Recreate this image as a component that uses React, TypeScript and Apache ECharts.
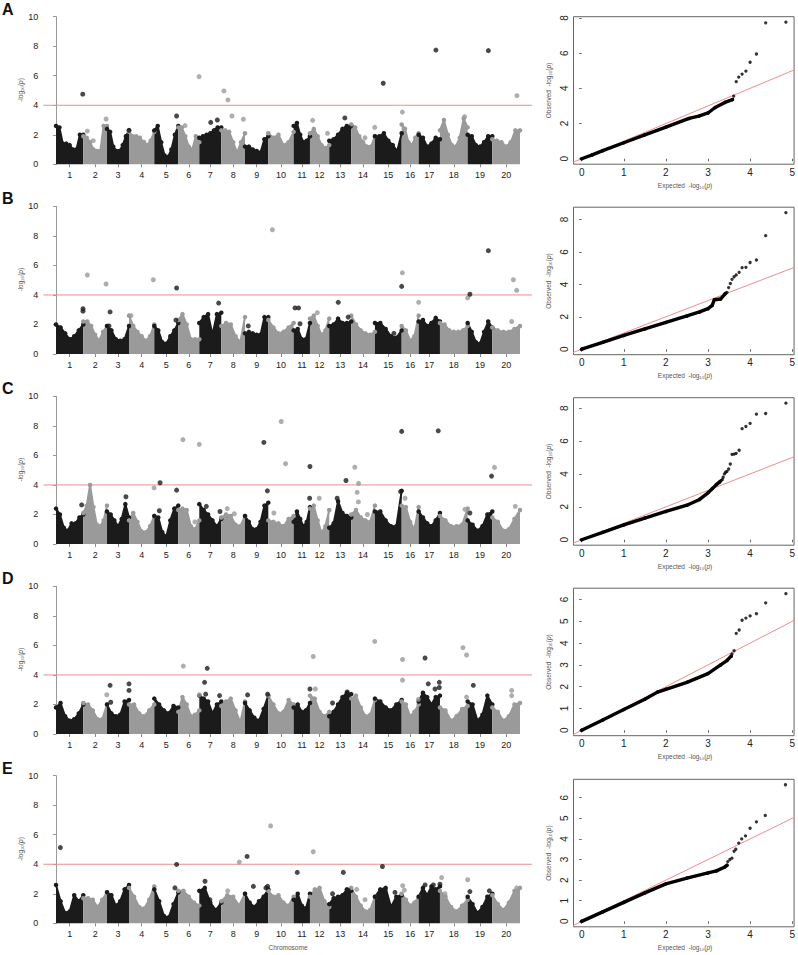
import React, { useEffect, useRef } from "react";
import * as echarts from "echarts";

// ---------------- DATA ----------------
const chromNames = ["1","2","3","4","5","6","7","8","9","10","11","12","13","14","15","16","17","18","19","20"];
// chromosome lengths (Mb)
const chromLenMb = [57.3, 49.8, 46.2, 53.1, 50.4, 44.1, 46.2, 49.8, 48.9, 53.3, 34.2, 40.5, 46.2, 49.8, 56.1, 35.7, 44.7, 58.2, 51.7, 58.2];

// Upper envelope of the dense -log10(p) cloud, sampled evenly along each chromosome
const envA = [
  [2.6, 2.5, 1.4, 1.4, 1.3, 1.0, 1.0, 2.0, 2.0],
  [1.9, 1.8, 1.5, 1.0, 0.9, 0.9, 2.6, 2.6],
  [2.4, 2.2, 1.2, 0.9, 0.9, 1.3, 1.9, 2.3],
  [2.2, 1.9, 1.9, 1.8, 1.5, 1.3, 1.6, 2.2],
  [2.3, 2.6, 1.5, 0.6, 0.5, 1.0, 2.0, 2.6],
  [2.5, 2.5, 1.9, 1.2, 1.0, 1.9, 1.5],
  [1.8, 1.9, 2.0, 2.1, 2.3, 2.5, 2.5],
  [2.3, 2.3, 2.2, 1.5, 0.8, 1.5, 2.1],
  [1.2, 1.2, 1.0, 0.9, 0.8, 1.7, 1.9],
  [2.1, 1.8, 2.0, 1.3, 1.5, 2.2],
  [2.6, 2.8, 2.0, 1.5, 1.6, 1.9],
  [2.1, 2.4, 1.9, 1.3, 1.1, 1.3],
  [1.6, 1.7, 2.0, 2.4, 2.6, 2.6],
  [2.7, 2.5, 1.9, 1.5, 1.2, 1.2, 1.9],
  [1.9, 1.9, 2.1, 1.6, 1.3, 0.9, 2.1],
  [2.7, 2.4, 1.5, 1.3, 1.8, 2.1],
  [2.0, 1.8, 1.2, 1.4, 1.8, 1.7],
  [2.3, 3.0, 2.0, 1.3, 1.2, 1.8, 3.1, 2.5],
  [2.0, 1.9, 1.3, 1.2, 1.5, 1.9, 1.9],
  [1.7, 1.6, 1.5, 1.2, 1.5, 2.3, 2.3],
];
const envB = [
  [2.0, 1.8, 1.4, 1.0, 1.2, 1.6, 2.0],
  [2.2, 2.2, 1.9, 1.3, 0.9, 1.5, 1.9],
  [1.9, 1.6, 1.0, 0.9, 1.0, 1.9],
  [2.6, 1.9, 1.5, 1.2, 0.9, 1.2, 2.0],
  [1.9, 1.6, 0.8, 0.7, 1.2, 1.6, 2.1],
  [2.3, 2.7, 2.0, 1.0, 1.0, 1.0],
  [2.1, 2.5, 2.7, 1.3, 2.7, 2.8],
  [1.9, 2.1, 2.0, 1.2, 0.8, 2.5],
  [1.4, 1.5, 1.4, 1.3, 1.3, 2.5, 2.5],
  [2.3, 1.8, 1.4, 1.5, 1.8, 2.1],
  [1.6, 1.7, 1.0, 1.0, 2.1],
  [2.4, 2.6, 1.9, 1.3, 1.6, 2.4],
  [1.9, 2.0, 2.4, 2.1, 2.1, 2.2],
  [2.6, 2.0, 1.6, 1.4, 1.3, 1.5],
  [2.1, 2.1, 1.7, 1.2, 1.1, 1.6],
  [1.9, 1.6, 0.9, 1.2, 2.6],
  [2.2, 2.3, 1.9, 2.1, 2.45, 2.2],
  [2.1, 2.0, 1.6, 1.5, 1.5, 1.6, 1.9],
  [2.1, 1.5, 0.8, 0.7, 1.5, 2.2, 1.8],
  [1.8, 1.6, 1.5, 1.5, 1.7, 1.9],
];
const envC = [
  [2.4, 2.0, 1.1, 0.9, 1.4, 1.4, 1.8, 2.0],
  [2.1, 2.6, 4.0, 2.5, 1.3, 1.2, 1.6, 2.6],
  [2.2, 2.0, 1.6, 1.2, 1.7, 2.7, 1.8],
  [1.6, 2.1, 1.5, 0.85, 0.8, 1.2, 1.9],
  [1.9, 1.8, 0.8, 0.5, 1.6, 2.4, 2.6],
  [2.3, 2.4, 2.3, 1.2, 1.0, 1.6],
  [2.7, 2.3, 2.0, 1.6, 1.2, 1.7],
  [1.8, 2.0, 1.9, 1.3, 1.2, 1.9],
  [1.9, 1.5, 1.0, 1.0, 1.5, 2.6, 2.8],
  [1.6, 1.5, 1.4, 1.2, 1.7, 1.9],
  [1.5, 2.2, 1.7, 1.2, 1.5, 2.5],
  [2.4, 2.6, 1.6, 0.75, 1.2, 2.3],
  [1.1, 1.4, 2.9, 2.1, 1.9, 1.8],
  [2.0, 2.3, 1.8, 1.6, 1.5, 2.6],
  [2.2, 2.2, 1.6, 1.2, 1.2, 3.6],
  [2.6, 2.5, 1.5, 1.0, 2.5],
  [2.2, 1.8, 1.4, 1.2, 1.6, 2.1],
  [1.9, 1.6, 1.2, 1.2, 1.3, 2.4],
  [1.6, 1.3, 0.9, 1.2, 2.0, 2.2],
  [1.8, 1.5, 0.9, 1.0, 1.7, 2.3],
];
const envD = [
  [1.8, 2.1, 1.2, 0.9, 1.0, 1.4, 2.0],
  [2.1, 2.0, 1.6, 1.0, 1.0, 2.0],
  [2.0, 1.4, 1.2, 1.3, 2.2, 2.3],
  [2.0, 2.0, 1.4, 1.2, 1.6, 2.0],
  [2.4, 2.0, 1.6, 1.4, 1.9, 1.8],
  [1.5, 2.5, 2.0, 1.2, 1.3, 1.6],
  [2.6, 2.4, 2.2, 1.4, 2.0, 2.2],
  [1.9, 2.2, 2.4, 1.6, 0.8, 2.2],
  [2.1, 1.6, 1.1, 0.9, 1.7, 2.6],
  [2.6, 2.0, 1.4, 1.5, 2.3, 2.0],
  [1.8, 2.0, 1.5, 1.6, 2.1],
  [2.6, 2.4, 1.5, 1.2, 1.5],
  [1.2, 1.5, 2.0, 2.5, 2.8, 2.7],
  [2.4, 2.6, 1.8, 1.2, 1.3, 2.3],
  [2.4, 2.2, 1.8, 1.6, 2.0, 2.3],
  [2.2, 2.0, 1.2, 1.5, 2.0],
  [2.2, 2.8, 2.5, 2.0, 2.5, 2.6],
  [1.8, 1.6, 0.9, 1.2, 1.7, 1.9],
  [2.2, 2.0, 0.9, 1.3, 2.6, 2.0],
  [1.8, 1.5, 0.9, 1.2, 2.0, 2.1],
];
const envE = [
  [2.6, 1.5, 0.7, 0.8, 1.9, 1.5, 1.9],
  [1.7, 1.7, 1.6, 1.1, 1.6, 2.1],
  [2.1, 1.9, 1.2, 1.5, 2.3, 2.6],
  [2.4, 1.8, 1.1, 1.0, 1.6, 2.5],
  [2.3, 1.5, 0.5, 0.4, 1.3, 2.1],
  [2.2, 2.2, 1.8, 1.4, 1.2],
  [2.2, 2.4, 1.4, 0.9, 1.4],
  [1.5, 1.9, 1.8, 1.2, 2.0],
  [2.0, 1.4, 1.1, 1.5, 1.8, 2.3],
  [2.2, 1.8, 1.9, 1.4, 1.2, 1.8],
  [1.6, 2.0, 1.2, 1.0, 2.0],
  [1.8, 2.3, 2.4, 1.5, 1.1],
  [1.3, 1.7, 1.8, 1.9, 2.3, 2.2],
  [2.4, 1.8, 1.2, 0.8, 0.9, 1.8],
  [1.8, 2.3, 2.4, 1.1, 1.8, 1.9],
  [2.0, 1.6, 1.2, 1.4, 1.8],
  [1.8, 2.4, 1.9, 2.5, 2.3, 2.5],
  [2.2, 1.8, 1.1, 0.8, 1.2, 1.6],
  [1.8, 1.3, 0.7, 1.1, 1.8, 2.0],
  [1.9, 1.3, 0.9, 1.4, 2.2, 2.4],
];

// isolated markers: [chromosome, fraction along chromosome, -log10(p)]
const hitsA = [
  [1, 0.98, 4.75], [2, 0.17, 2.25], [2, 0.42, 1.6], [2, 0.96, 3.07], [3, 1.0, 2.3],
  [4, 0.59, 1.5], [5, 0.93, 3.27], [6, 0.32, 2.62], [6, 0.99, 5.94],
  [7, 0.52, 2.84], [7, 0.82, 3.0], [8, 0.11, 4.97], [8, 0.28, 4.36], [8, 0.45, 3.27], [8, 0.93, 3.05],
  [12, 0.14, 2.98], [12, 0.91, 2.1], [13, 0.71, 3.14], [13, 0.91, 2.48], [14, 0.58, 1.8], [14, 0.99, 2.5],
  [15, 0.31, 5.49], [16, 0.04, 3.54], [17, 0.81, 7.74], [18, 0.89, 3.23], [19, 0.84, 7.7], [20, 0.89, 4.65],
];
const hitsB = [
  [1, 0.99, 3.07], [1, 0.99, 2.9], [2, 0.17, 5.35], [2, 0.96, 4.74], [3, 0.14, 2.85], [3, 0.09, 1.9],
  [4, 0.08, 2.6], [4, 0.96, 5.03], [5, 0.93, 4.47], [5, 0.9, 2.3], [7, 0.88, 3.45], [9, 0.14, 1.9],
  [10, 0.16, 8.42], [11, 0.08, 3.12], [11, 0.3, 3.12], [11, 0.39, 2.05], [12, 0.38, 2.8],
  [13, 0.41, 3.5], [13, 0.86, 2.5], [15, 0.71, 1.4], [15, 1.0, 4.58], [16, 0.04, 5.5], [16, 1.0, 3.5],
  [18, 1.0, 3.8], [19, 0.09, 4.05], [19, 0.84, 7.0], [20, 0.76, 5.03], [20, 0.88, 4.31], [20, 0.7, 2.2],
];
const hitsC = [
  [1, 0.94, 2.65], [3, 0.86, 3.2], [4, 0.99, 3.8], [5, 0.24, 4.15], [5, 0.93, 3.65], [5, 0.21, 2.25],
  [6, 0.22, 7.07], [6, 1.0, 6.75], [6, 0.79, 1.5], [7, 0.32, 2.55], [7, 0.94, 2.2], [8, 0.25, 2.4], [8, 0.55, 2.05],
  [9, 0.81, 6.88], [9, 0.96, 3.6], [10, 0.51, 8.3], [10, 0.68, 5.44], [10, 0.22, 2.1],
  [11, 1.0, 5.25], [11, 0.98, 3.1], [12, 0.48, 3.1], [13, 0.76, 4.3], [13, 0.36, 3.1],
  [14, 0.15, 5.2], [14, 0.31, 4.1], [14, 0.25, 3.5], [14, 0.3, 2.85], [14, 0.68, 2.0],
  [15, 1.0, 7.63], [15, 0.96, 3.55], [16, 0.2, 3.1], [17, 0.92, 7.67], [18, 0.9, 2.35],
  [19, 0.09, 2.1], [19, 0.97, 4.6], [20, 0.08, 5.19], [20, 0.83, 2.55],
];
const hitsD = [
  [2, 0.99, 2.66], [3, 0.14, 3.3], [3, 1.0, 3.4], [3, 1.0, 2.95], [3, 0.17, 2.15],
  [6, 0.24, 4.6], [6, 1.0, 2.65], [7, 0.36, 4.45], [7, 0.24, 3.5], [7, 0.29, 2.7], [7, 0.92, 2.6],
  [9, 0.11, 2.65], [9, 0.97, 2.7], [11, 1.0, 3.05], [12, 0.17, 5.25], [12, 0.28, 3.05],
  [13, 0.15, 2.1], [13, 0.82, 2.85], [14, 0.99, 6.27], [16, 0.05, 5.05], [16, 0.05, 3.65], [16, 0.98, 2.35],
  [17, 0.3, 5.15], [17, 0.45, 3.4], [17, 0.97, 3.5], [17, 0.97, 3.15], [17, 0.77, 3.05],
  [18, 0.83, 5.85], [18, 0.96, 5.35], [18, 0.96, 2.5], [19, 0.23, 3.3], [20, 0.7, 2.95], [20, 0.7, 2.6],
];
const hitsE = [
  [1, 0.16, 5.13], [5, 0.93, 3.99], [5, 0.86, 2.4], [7, 0.26, 2.85], [7, 0.48, 1.6],
  [8, 0.76, 4.15], [8, 0.27, 2.2], [9, 0.09, 4.53], [9, 0.36, 2.5], [9, 0.9, 2.4], [9, 0.97, 2.5],
  [10, 0.09, 6.6], [11, 0.22, 3.45], [12, 0.17, 4.85], [13, 0.64, 3.45], [13, 0.15, 2.0], [13, 0.86, 2.25],
  [14, 0.23, 2.3], [14, 0.58, 1.6], [15, 0.28, 3.85], [15, 0.38, 2.3], [15, 0.75, 2.1],
  [16, 0.06, 2.55], [16, 0.16, 2.25], [17, 0.3, 2.6], [17, 0.69, 2.6], [17, 1.0, 2.65],
  [18, 0.06, 3.1], [18, 1.0, 2.95], [18, 0.18, 2.0], [19, 0.09, 2.15], [19, 0.88, 2.2], [20, 0.88, 2.4],
];

const threshold = 4;
const manhattanTicks = [0, 2, 4, 6, 8, 10];

// QQ plots: dense body [expected, observed] and sparse tail points
const qqBodyA = [[0, 0], [0.25, 0.22], [0.5, 0.46], [1, 0.91], [1.5, 1.36], [2, 1.8], [2.55, 2.29], [2.78, 2.42], [3.0, 2.6], [3.17, 2.91], [3.4, 3.2], [3.58, 3.36]];
const qqTailA = [[3.61, 3.56], [3.67, 4.38], [3.73, 4.64], [3.81, 4.81], [3.9, 4.98], [4.0, 5.48], [4.15, 5.95], [4.37, 7.72], [4.85, 7.76]];
const qqBodyB = [[0, 0], [0.5, 0.43], [1, 0.85], [1.5, 1.25], [2, 1.65], [2.5, 2.05], [2.8, 2.3], [3.0, 2.5], [3.1, 2.7], [3.15, 3.05], [3.3, 3.1], [3.4, 3.4]];
const qqTailB = [[3.42, 3.45], [3.45, 3.5], [3.49, 3.8], [3.53, 4.05], [3.57, 4.31], [3.62, 4.47], [3.67, 4.58], [3.74, 4.74], [3.81, 5.03], [3.9, 5.05], [4.0, 5.35], [4.15, 5.5], [4.37, 7.0], [4.85, 8.42]];
const qqBodyC = [[0, 0], [0.5, 0.45], [1, 0.9], [1.5, 1.32], [2, 1.72], [2.5, 2.1], [2.8, 2.45], [3.0, 2.85], [3.1, 3.1], [3.2, 3.35], [3.27, 3.5]];
const qqTailC = [[3.29, 3.55], [3.31, 3.6], [3.34, 3.65], [3.36, 3.8], [3.39, 4.0], [3.42, 4.1], [3.45, 4.15], [3.49, 4.3], [3.53, 4.6], [3.57, 5.19], [3.62, 5.2], [3.67, 5.25], [3.74, 5.44], [3.81, 6.75], [3.9, 6.88], [4.0, 7.07], [4.15, 7.63], [4.37, 7.67], [4.85, 8.3]];
const qqBodyD = [[0, 0], [0.5, 0.47], [1, 0.95], [1.5, 1.42], [1.8, 1.75], [2, 1.88], [2.5, 2.2], [3, 2.6], [3.3, 3.0], [3.45, 3.2], [3.55, 3.4]];
const qqTailD = [[3.57, 3.5], [3.62, 3.65], [3.67, 4.45], [3.74, 4.6], [3.81, 5.05], [3.9, 5.15], [4.0, 5.25], [4.15, 5.35], [4.37, 5.85], [4.85, 6.27]];
const qqBodyE = [[0, 0], [0.5, 0.46], [1, 0.92], [1.5, 1.38], [2, 1.82], [2.5, 2.1], [3, 2.35], [3.2, 2.45], [3.4, 2.64], [3.45, 2.72]];
const qqTailE = [[3.47, 2.9], [3.52, 3.0], [3.57, 3.07], [3.62, 3.4], [3.66, 3.5], [3.73, 3.8], [3.8, 4.0], [3.89, 4.15], [4.0, 4.52], [4.15, 4.83], [4.36, 5.14], [4.84, 6.63]];
const qqXTicks = [0, 1, 2, 3, 4, 5];
const qqYTicksA = [0, 2, 4, 6, 8];
const qqYTicksB = [0, 2, 4, 6, 8];
const qqYTicksC = [0, 2, 4, 6, 8];
const qqYTicksD = [0, 1, 2, 3, 4, 5, 6];
const qqYTicksE = [0, 1, 2, 3, 4, 5, 6];
const panelLabels = ["A", "B", "C", "D", "E"];

// ---------------- LAYOUT ----------------
const FONT = "Liberation Sans, Arial, Helvetica, sans-serif";
const BLACK = "#1b1b1b";
const GRAY = "#9a9a9a";
const RED = "#f08c8c";
const X_MIN = -26.7;
const X_MAX = 999.6;
const manTop = [0, 189.7, 379.7, 569.7, 759];
const qqTop = [0, 190.5, 381, 571.5, 762.6];

function buildOption() {
  const starts: number[] = [];
  let acc = 0;
  chromLenMb.forEach((l) => { starts.push(acc); acc += l; });
  const centers = chromLenMb.map((l, i) => starts[i] + l / 2);
  const nameAt = (v: number) => {
    const i = centers.findIndex((c) => Math.abs(c - v) < 0.01);
    return i >= 0 ? chromNames[i] : "";
  };
  const envs = [envA, envB, envC, envD, envE];
  const hits = [hitsA, hitsB, hitsC, hitsD, hitsE];
  const bodies = [qqBodyA, qqBodyB, qqBodyC, qqBodyD, qqBodyE];
  const tails = [qqTailA, qqTailB, qqTailC, qqTailD, qqTailE];
  const yTicks = [qqYTicksA, qqYTicksB, qqYTicksC, qqYTicksD, qqYTicksE];

  const grid: any[] = [];
  const xAxis: any[] = [];
  const yAxis: any[] = [];
  const series: any[] = [];
  const graphic: any[] = [];
  const logLabel = (prefix: string) => ({
    text: prefix + "-log₁₀({i|p})",
    rich: { i: { fontStyle: "italic", fontSize: 6.5, fill: "#555", fontFamily: FONT } },
  });

  for (let p = 0; p < 5; p++) {
    // ---- Manhattan ----
    const gi = grid.length;
    const t = manTop[p];
    grid.push({ left: 43.3, top: t + 16.7, width: 488.7, height: 147.6 });
    xAxis.push({
      type: "value", gridIndex: gi, min: X_MIN, max: X_MAX,
      axisLine: { show: false }, splitLine: { show: false },
      axisTick: { show: true, customValues: centers, length: 3, lineStyle: { color: "#888" } },
      axisLabel: { customValues: centers, formatter: nameAt, fontSize: 9, color: "#222", margin: 6, fontFamily: FONT },
    });
    yAxis.push({
      type: "value", gridIndex: gi, min: 0, max: 10, interval: 2,
      axisLine: { show: true, lineStyle: { color: "#999" } },
      axisTick: { show: true, length: 3, lineStyle: { color: "#999" } },
      axisLabel: { fontSize: 9, color: "#222", margin: 5, fontFamily: FONT, customValues: manhattanTicks },
      splitLine: { show: false },
    });
    // significance threshold
    series.push({
      type: "line", xAxisIndex: gi, yAxisIndex: gi, silent: true, z: 1,
      data: [[X_MIN, threshold], [X_MAX, threshold]], symbol: "none",
      lineStyle: { color: RED, width: 1 },
    });
    envs[p].forEach((heights, c) => {
      const color = c % 2 === 0 ? BLACK : GRAY;
      const n = heights.length;
      series.push({
        type: "line", xAxisIndex: gi, yAxisIndex: gi, silent: true, z: 2,
        data: heights.map((h, i) => [starts[c] + (chromLenMb[c] * i) / (n - 1), h]),
        symbol: "circle", symbolSize: 4.5, showSymbol: true,
        itemStyle: { color }, lineStyle: { color, width: 2 },
        areaStyle: { color, opacity: 1 },
      });
    });
    series.push({
      type: "scatter", xAxisIndex: gi, yAxisIndex: gi, silent: true, z: 3,
      symbolSize: 5,
      data: hits[p].map(([c, f, v]) => ({
        value: [starts[c - 1] + chromLenMb[c - 1] * f, v],
        itemStyle: { color: (c - 1) % 2 === 0 ? BLACK : GRAY },
      })),
    });
    graphic.push({
      type: "text", x: 2, y: t + 1,
      style: { text: panelLabels[p], fontSize: 16, fontWeight: "bold", fill: "#111", fontFamily: FONT },
    });
    graphic.push({
      type: "text", x: 20.7, y: t + 90, rotation: Math.PI / 2,
      style: { ...logLabel(""), fontSize: 6.5, fill: "#555", fontFamily: FONT, align: "center", verticalAlign: "middle" },
    });

    // ---- QQ ----
    const qi = grid.length;
    const q = qqTop[p];
    const body = bodies[p];
    const tail = tails[p];
    const ymax = tail[tail.length - 1][1];
    grid.push({ left: 573.5, top: q + 16.7, width: 222.6, height: 147.5, show: true, borderColor: "#666", borderWidth: 1, backgroundColor: "transparent" });
    xAxis.push({
      type: "value", gridIndex: qi, min: -0.194, max: 5.044,
      axisLine: { show: false }, splitLine: { show: false },
      axisTick: { show: true, customValues: qqXTicks, length: 2.5, lineStyle: { color: "#666" } },
      axisLabel: { customValues: qqXTicks, fontSize: 10, color: "#222", margin: 3, fontFamily: FONT },
    });
    yAxis.push({
      type: "value", gridIndex: qi, min: -0.04 * ymax, max: 1.04 * ymax,
      axisLine: { show: false }, splitLine: { show: false },
      axisTick: { show: true, customValues: yTicks[p], length: 2.5, lineStyle: { color: "#666" } },
      axisLabel: { customValues: yTicks[p], fontSize: 10, color: "#222", margin: 4, rotate: 90, fontFamily: FONT },
    });
    series.push({
      type: "line", xAxisIndex: qi, yAxisIndex: qi, silent: true, z: 1, clip: true,
      data: [[-1, -1], [7, 7]], symbol: "none", lineStyle: { color: RED, width: 1 },
    });
    series.push({
      type: "line", xAxisIndex: qi, yAxisIndex: qi, silent: true, z: 2,
      data: body, symbol: "circle", symbolSize: 3.5, showSymbol: true,
      itemStyle: { color: "#000" }, lineStyle: { color: "#000", width: 3.4, cap: "round", join: "round" },
    });
    series.push({
      type: "scatter", xAxisIndex: qi, yAxisIndex: qi, silent: true, z: 3,
      data: tail, symbolSize: 3.3, itemStyle: { color: "#000" },
    });
    graphic.push({
      type: "text", x: 548, y: q + 90.5, rotation: Math.PI / 2,
      style: { ...logLabel("Observed  "), fontSize: 6.5, fill: "#555", fontFamily: FONT, align: "center", verticalAlign: "middle" },
    });
    graphic.push({
      type: "text", x: 685, y: q + 185,
      style: { ...logLabel("Expected  "), fontSize: 6.5, fill: "#555", fontFamily: FONT, align: "center", verticalAlign: "middle" },
    });
  }
  graphic.push({
    type: "text", x: 288, y: 947.5,
    style: { text: "Chromosome", fontSize: 6.5, fill: "#555", fontFamily: FONT, align: "center", verticalAlign: "middle" },
  });

  return { animation: false, backgroundColor: "#fff", grid, xAxis, yAxis, series, graphic };
}

export default function App() {
  const ref = useRef<HTMLDivElement>(null);
  useEffect(() => {
    if (!ref.current) return;
    const chart = echarts.init(ref.current, null, { renderer: "svg" });
    chart.setOption(buildOption() as any);
    return () => chart.dispose();
  }, []);
  return <div ref={ref} style={{ position: "fixed", left: 0, top: 0, width: 798, height: 955, background: "#fff" }} />;
}
